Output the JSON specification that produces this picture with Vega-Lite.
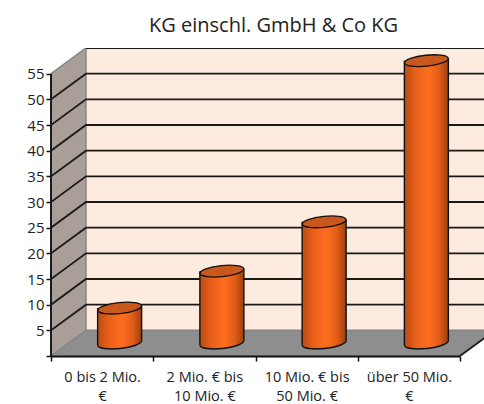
{
 "$schema":"https://vega.github.io/schema/vega-lite/v6.json",
 "width":433,"height":308,"autosize":"none",
 "padding":{"left":51,"top":48,"right":0,"bottom":48},
 "background":"white",
 "title":{"text":"KG einschl. GmbH & Co KG","font":"Open Sans","fontSize":20,"fontWeight":"normal","color":"#222222","anchor":"middle","frame":"group","dx":6,"offset":12},
 "config":{"view":{"stroke":null},"font":"Open Sans"},
 "datasets":{
  "bars":[{"klasse":"0 bis 2 Mio. €","wert":6.8},{"klasse":"2 Mio. € bis 10 Mio. €","wert":14},{"klasse":"10 Mio. € bis 50 Mio. €","wert":23.6},{"klasse":"über 50 Mio. €","wert":55}],
  "side":[{"d":0,"lo":0,"hi":55},{"d":0.342,"lo":5,"hi":60}],
  "floor":[{"d":0,"lo":0,"hi":0},{"d":0.342,"lo":0,"hi":5},{"d":4,"lo":0,"hi":5},{"d":4.342,"lo":5,"hi":5}],
  "back":[{"d":0.342,"d2":4.342,"lo":5,"hi":60}],
  "grid":[
   {"g":5,"d":0,"v":5},{"g":5,"d":0.342,"v":10},{"g":5,"d":4.342,"v":10},
   {"g":10,"d":0,"v":10},{"g":10,"d":0.342,"v":15},{"g":10,"d":4.342,"v":15},
   {"g":15,"d":0,"v":15},{"g":15,"d":0.342,"v":20},{"g":15,"d":4.342,"v":20},
   {"g":20,"d":0,"v":20},{"g":20,"d":0.342,"v":25},{"g":20,"d":4.342,"v":25},
   {"g":25,"d":0,"v":25},{"g":25,"d":0.342,"v":30},{"g":25,"d":4.342,"v":30},
   {"g":30,"d":0,"v":30},{"g":30,"d":0.342,"v":35},{"g":30,"d":4.342,"v":35},
   {"g":35,"d":0,"v":35},{"g":35,"d":0.342,"v":40},{"g":35,"d":4.342,"v":40},
   {"g":40,"d":0,"v":40},{"g":40,"d":0.342,"v":45},{"g":40,"d":4.342,"v":45},
   {"g":45,"d":0,"v":45},{"g":45,"d":0.342,"v":50},{"g":45,"d":4.342,"v":50},
   {"g":50,"d":0,"v":50},{"g":50,"d":0.342,"v":55},{"g":50,"d":4.342,"v":55},
   {"g":55,"d":0.342,"v":60},{"g":55,"d":4.342,"v":60}
  ],
  "greyEdges":[
   {"g":"a","d":0,"v":55},{"g":"a","d":0.342,"v":60},{"g":"a2","d":0.342,"v":60},{"g":"a2","d":0.342,"v":5},
   {"g":"b","d":0,"v":0},{"g":"b","d":0.342,"v":5},{"g":"c","d":0.342,"v":5},{"g":"c","d":4.342,"v":5}
  ],
  "floorEdge":[{"d":4,"v":0},{"d":4.342,"v":5}],
  "axisLine":[{"d":0,"v":0},{"d":0,"v":55}]
 },
 "layer":[
  {"data":{"name":"back"},"mark":{"type":"rect","fill":"#fdebdf","clip":true},
   "encoding":{"x":{"field":"d","type":"quantitative","scale":{"domain":[0,4.235],"nice":false,"zero":false},"axis":null},"x2":{"field":"d2"},
    "y":{"field":"lo","type":"quantitative","scale":{"domain":[0,60],"nice":false},
      "axis":{"values":[0,5,10,15,20,25,30,35,40,45,50,55],"title":null,"grid":false,"domain":false,"tickColor":"#111111","tickSize":5,"tickWidth":1.5,"labelFont":"Open Sans","labelFontSize":15,"labelColor":"#222222","labelPadding":2,"labelOverlap":false,"labelExpr":"datum.value==0?'':datum.label"}},
    "y2":{"field":"hi"}}},
  {"data":{"name":"side"},"mark":{"type":"area","fill":"#aa9e98","clip":true},
   "encoding":{"x":{"field":"d","type":"quantitative","scale":{"domain":[0,4.235],"nice":false,"zero":false},"axis":null},"y":{"field":"lo","type":"quantitative","axis":null},"y2":{"field":"hi"}}},
  {"data":{"name":"floor"},"mark":{"type":"area","fill":"#8e8e8e","clip":true},
   "encoding":{"x":{"field":"d","type":"quantitative","scale":{"domain":[0,4.235],"nice":false,"zero":false},"axis":null},"y":{"field":"lo","type":"quantitative","axis":null},"y2":{"field":"hi"}}},
  {"data":{"name":"greyEdges"},"mark":{"type":"line","stroke":"#858585","strokeWidth":1.5,"clip":true},
   "encoding":{"x":{"field":"d","type":"quantitative","scale":{"domain":[0,4.235],"nice":false,"zero":false},"axis":null},"y":{"field":"v","type":"quantitative","axis":null},"detail":{"field":"g"},"order":{"value":0}}},
  {"data":{"name":"grid"},"mark":{"type":"line","stroke":"#1a1a1a","strokeWidth":1.8,"clip":true},
   "encoding":{"x":{"field":"d","type":"quantitative","scale":{"domain":[0,4.235],"nice":false,"zero":false},"axis":null},"y":{"field":"v","type":"quantitative","axis":null},"detail":{"field":"g"}}},
  {"data":{"name":"floorEdge"},"mark":{"type":"line","stroke":"#1a1a1a","strokeWidth":1.8,"clip":true},
   "encoding":{"x":{"field":"d","type":"quantitative","scale":{"domain":[0,4.235],"nice":false,"zero":false},"axis":null},"y":{"field":"v","type":"quantitative","axis":null}}},
  {"data":{"name":"axisLine"},"mark":{"type":"line","stroke":"#1a1a1a","strokeWidth":2,"clip":false},
   "encoding":{"x":{"field":"d","type":"quantitative","scale":{"domain":[0,4.235],"nice":false,"zero":false},"axis":null},"y":{"field":"v","type":"quantitative","axis":null}}},
  {"data":{"name":"bars"},"mark":{"type":"point","filled":true,"opacity":1,"shape":"M-.995,-.3 L.995,-.3 L.995,-.105 C1.009,.033,.576,.191,.026,.249 C-.524,.307,-.98,.2425,-.995,.105 Z","size":1936,"xOffset":17.5,"yOffset":-13,"strokeWidth":0,
     "fill":{"x1":0,"y1":0,"x2":1,"y2":0,"gradient":"linear","stops":[{"offset":0,"color":"#b84c14"},{"offset":0.25,"color":"#e85f1a"},{"offset":0.55,"color":"#ff6e1e"},{"offset":0.8,"color":"#e05c18"},{"offset":1,"color":"#9a4010"}]}},
   "encoding":{"x":{"field":"klasse","type":"nominal","sort":null,"scale":{"range":[0,409],"paddingInner":0,"paddingOuter":0},
      "axis":{"title":null,"labelAngle":0,"domainColor":"#111111","domainWidth":2,"tickColor":"#111111","tickWidth":1.5,"tickSize":5,"tickBand":"extent","zindex":1,"labelFont":"Open Sans","labelFontSize":14.5,"labelColor":"#222222","labelPadding":9,"labelLineHeight":19,"labelLimit":200,"labelOverlap":false,
       "labelExpr":"{'0 bis 2 Mio. €':['0 bis 2 Mio.','€'],'2 Mio. € bis 10 Mio. €':['2 Mio. € bis','10 Mio. €'],'10 Mio. € bis 50 Mio. €':['10 Mio. € bis','50 Mio. €'],'über 50 Mio. €':['über 50 Mio.','€']}[datum.label]"}},
     "y":{"datum":0,"type":"quantitative","axis":null}}},
  {"data":{"name":"bars"},"mark":{"type":"point","filled":false,"opacity":1,"shape":"M.995,-.105 C1.009,.033,.576,.191,.026,.249 C-.524,.307,-.98,.2425,-.995,.105","size":1936,"xOffset":17.5,"yOffset":-13,"stroke":"#111111","strokeWidth":1.4,"fill":null},
   "encoding":{"x":{"field":"klasse","type":"nominal","sort":null,"scale":{"range":[0,409],"paddingInner":0,"paddingOuter":0},"axis":null},
     "y":{"datum":0,"type":"quantitative","axis":null}}},
  {"data":{"name":"bars"},"mark":{"type":"bar","width":44,"xOffset":17.5,"yOffset":-13,"y2Offset":-16,
     "fill":{"x1":0,"y1":0,"x2":1,"y2":0,"gradient":"linear","stops":[{"offset":0,"color":"#b84c14"},{"offset":0.25,"color":"#e85f1a"},{"offset":0.55,"color":"#ff6e1e"},{"offset":0.8,"color":"#e05c18"},{"offset":1,"color":"#9a4010"}]}},
   "encoding":{"x":{"field":"klasse","type":"nominal","sort":null,"scale":{"range":[0,409],"paddingInner":0,"paddingOuter":0},"axis":null},
     "y":{"field":"wert","type":"quantitative","axis":null},"y2":{"datum":0}}},
  {"data":{"name":"bars"},"mark":{"type":"rule","stroke":"#111111","strokeWidth":1.4,"xOffset":-4.5,"yOffset":-13,"y2Offset":-10.7},
   "encoding":{"x":{"field":"klasse","type":"nominal","sort":null,"scale":{"range":[0,409],"paddingInner":0,"paddingOuter":0},"axis":null},
     "y":{"field":"wert","type":"quantitative","axis":null},"y2":{"datum":0}}},
  {"data":{"name":"bars"},"mark":{"type":"rule","stroke":"#111111","strokeWidth":1.4,"xOffset":39.5,"yOffset":-15.3,"y2Offset":-15.3},
   "encoding":{"x":{"field":"klasse","type":"nominal","sort":null,"scale":{"range":[0,409],"paddingInner":0,"paddingOuter":0},"axis":null},
     "y":{"field":"wert","type":"quantitative","axis":null},"y2":{"datum":0}}},
  {"data":{"name":"bars"},"mark":{"type":"point","filled":true,"opacity":1,"shape":"M-.995,.105 C-1.009,-.033,-.576,-.191,-.026,-.249 C.524,-.307,.98,-.2425,.995,-.105 C1.009,.033,.576,.191,.026,.249 C-.524,.307,-.98,.2425,-.995,.105 Z","size":1936,"xOffset":17.5,"yOffset":-13,"fill":"#c8581c","stroke":"#111111","strokeWidth":1.4},
   "encoding":{"x":{"field":"klasse","type":"nominal","sort":null,"scale":{"range":[0,409],"paddingInner":0,"paddingOuter":0},"axis":null},
     "y":{"field":"wert","type":"quantitative","axis":null}}}
 ],
 "resolve":{"scale":{"x":"independent"},"axis":{"y":"independent"}}
}
